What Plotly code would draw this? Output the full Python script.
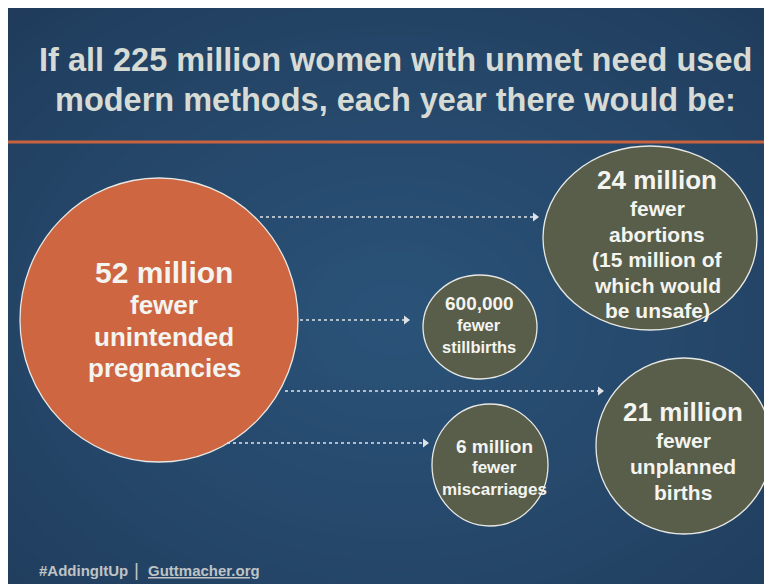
import plotly.graph_objects as go

W, H = 772, 584
OFF = 8  # page body margin; axis ranges chosen so data coords == page pixels

# ---- content ----
title_lines = ["If all 225 million women with unmet need used",
               "modern methods, each year there would be:"]
amounts = ["52 million", "24 million", "600,000", "6 million", "21 million"]
descriptions = [
    ["fewer", "unintended", "pregnancies"],
    ["fewer", "abortions", "(15 million of", "which would", "be unsafe)"],
    ["fewer", "stillbirths"],
    ["fewer", "miscarriages"],
    ["fewer", "unplanned", "births"],
]
footer_tag = "#AddingItUp"
footer_site = "Guttmacher.org"

# ---- layout / styling ----
circle_cx = [159, 650, 480, 490, 684]
circle_cy = [320, 238, 327, 465, 446]
circle_rx = [139, 107, 57, 58, 88]
circle_ry = [142, 92, 52, 61, 88]
circle_fill = ["#cd6641", "#585e4a", "#585e4a", "#585e4a", "#585e4a"]
amount_y = [272, 180, 303, 446, 412]
amount_size = [30, 26, 19, 19, 26]
desc_y = [[305, 337, 368], [208, 234, 259, 285, 310], [325, 347], [467, 489], [440, 466, 492]]
desc_size = [26, 21, 16.5, 17, 21]
text_x = [164, 657, 479, 494, 683]

arrow_y = [217, 320, 391, 443]
arrow_x0 = [260, 300, 285, 227]
arrow_x1 = [533, 404, 598, 423]

fig = go.Figure()
shapes = []

# slide background with radial-ish gradient (layered ellipses)
shapes.append(dict(type="rect", xref="x", yref="y", x0=0, x1=W + 20, y0=0, y1=H + 20,
                   fillcolor="#1f3a59", line=dict(width=0), layer="below"))
c_out = (31, 58, 89)
c_in = (42, 82, 120)
n = 40
for i in range(n):
    t = i / (n - 1)
    rx = 560 * (1 - t) + 20
    ry = 420 * (1 - t) + 15
    col = tuple(int(round(c_out[k] + (c_in[k] - c_out[k]) * (t ** 0.8))) for k in range(3))
    shapes.append(dict(type="circle", xref="x", yref="y",
                       x0=395 - rx, x1=395 + rx, y0=320 - ry, y1=320 + ry,
                       fillcolor="rgb(%d,%d,%d)" % col, line=dict(width=0), layer="below"))
# orange rule
shapes.append(dict(type="line", xref="x", yref="y", x0=0, x1=W + 20, y0=142, y1=142,
                   line=dict(color="#c9623f", width=3), layer="below"))

# circles
for i in range(len(amounts)):
    shapes.append(dict(type="circle", xref="x", yref="y",
                       x0=circle_cx[i] - circle_rx[i], x1=circle_cx[i] + circle_rx[i],
                       y0=circle_cy[i] - circle_ry[i], y1=circle_cy[i] + circle_ry[i],
                       fillcolor=circle_fill[i], line=dict(color="#e8e8e4", width=1.3),
                       layer="below"))

# arrows
for i in range(len(arrow_y)):
    fig.add_trace(go.Scatter(x=[arrow_x0[i], arrow_x1[i]], y=[arrow_y[i], arrow_y[i]],
                             mode="lines", line=dict(color="#dfe3e8", width=1.6, dash="dot"),
                             hoverinfo="skip", showlegend=False))
    fig.add_trace(go.Scatter(x=[arrow_x1[i] + 2], y=[arrow_y[i]], mode="markers",
                             marker=dict(symbol="triangle-right", size=8, color="#dfe3e8"),
                             hoverinfo="skip", showlegend=False))

annotations = []
# title
for j, line in enumerate(title_lines):
    annotations.append(dict(x=395, y=[60, 100][j], xref="x", yref="y", text="<b>%s</b>" % line,
                            showarrow=False, xanchor="center", yanchor="middle",
                            font=dict(family="Arial", size=32.5, color="#d7dbd6")))
# circle texts
for i in range(len(amounts)):
    annotations.append(dict(x=text_x[i], y=amount_y[i], xref="x", yref="y",
                            text="<b>%s</b>" % amounts[i], showarrow=False,
                            xanchor="center", yanchor="middle",
                            font=dict(family="Arial", size=amount_size[i], color="#f4f4f0")))
    for k, d in enumerate(descriptions[i]):
        annotations.append(dict(x=text_x[i], y=desc_y[i][k], xref="x", yref="y",
                                text="<b>%s</b>" % d, showarrow=False,
                                xanchor="center", yanchor="middle",
                                font=dict(family="Arial", size=desc_size[i], color="#f4f4f0")))
# footer
annotations.append(dict(x=37, y=570, xref="x", yref="y", text="<b>%s</b>" % footer_tag,
                        showarrow=False, xanchor="left", yanchor="middle",
                        font=dict(family="Arial", size=15, color="#bfc3c6")))
annotations.append(dict(x=136, y=569, xref="x", yref="y", text="|",
                        showarrow=False, xanchor="center", yanchor="middle",
                        font=dict(family="Arial", size=19, color="#bfc3c6")))
annotations.append(dict(x=146, y=570, xref="x", yref="y", text="<b><u>%s</u></b>" % footer_site,
                        showarrow=False, xanchor="left", yanchor="middle",
                        font=dict(family="Arial", size=15, color="#bfc3c6")))

fig.update_layout(
    width=W - OFF, height=H - OFF, margin=dict(l=0, r=0, t=0, b=0),
    paper_bgcolor="white", plot_bgcolor="white",
    xaxis=dict(range=[OFF, W], visible=False, fixedrange=True),
    yaxis=dict(range=[H, OFF], visible=False, fixedrange=True),
    shapes=shapes, annotations=annotations, showlegend=False,
)

fig.write_html("out.html")
